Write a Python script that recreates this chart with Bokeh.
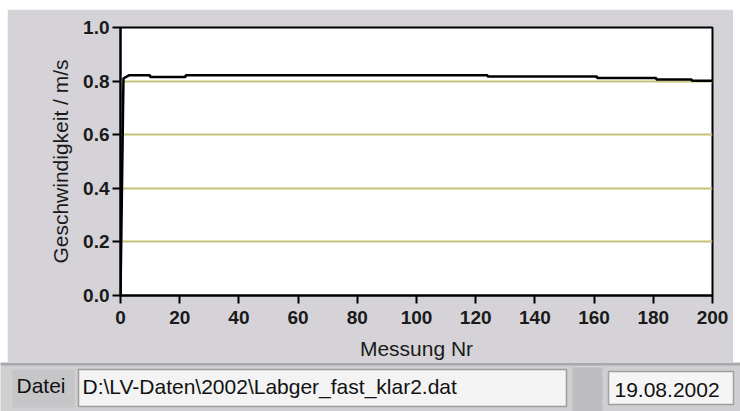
from bokeh.plotting import figure
from bokeh.models import Range1d, FixedTicker, PrintfTickFormatter, ColumnDataSource
from bokeh.core.properties import value
from bokeh.embed import file_html
from bokeh.resources import INLINE

# ---- data ----
messung = [0, 1, 3, 10, 10, 22, 22, 124, 124, 161, 161, 181, 181, 193, 193, 200]
geschw = [0.0, 0.81, 0.822, 0.822, 0.815, 0.815, 0.822, 0.822, 0.817, 0.817,
          0.812, 0.812, 0.806, 0.806, 0.801, 0.801]
x_ticks = [0, 20, 40, 60, 80, 100, 120, 140, 160, 180, 200]
y_ticks = [0.0, 0.2, 0.4, 0.6, 0.8, 1.0]
grid_levels = [0.2, 0.4, 0.6, 0.8]
x_title = "Messung Nr"
y_title = "Geschwindigkeit / m/s"
file_label = "Datei"
file_path = "D:\\LV-Daten\\2002\\Labger_fast_klar2.dat"
date_text = "19.08.2002"

FONT = "Liberation Sans"
PANEL = "#d5d3d8"

p = figure(width=726, height=353, output_backend="svg", toolbar_location=None,
           x_range=Range1d(0, 200), y_range=Range1d(0, 1.0),
           min_border_left=113, min_border_right=21, min_border_top=18,
           min_border_bottom=67)
p.styles = {"margin-left": "7px", "margin-top": "9px"}
p.border_fill_color = PANEL
p.background_fill_color = "white"
p.outline_line_color = "black"
p.outline_line_width = 2

p.xgrid.grid_line_color = None
p.ygrid.ticker = FixedTicker(ticks=grid_levels)
p.ygrid.grid_line_color = "#c9c27a"
p.ygrid.grid_line_width = 2

for ax in (p.xaxis[0], p.yaxis[0]):
    ax.axis_line_color = "black"
    ax.axis_line_width = 2
    ax.major_tick_line_color = "black"
    ax.major_tick_line_width = 2
    ax.major_tick_out = 8
    ax.major_tick_in = 0
    ax.minor_tick_line_color = None
    ax.major_label_text_font = FONT
    ax.major_label_text_font_size = "19px"
    ax.major_label_text_font_style = "bold"
    ax.major_label_text_color = "#1a1a1a"
    ax.axis_label_text_font = FONT
    ax.axis_label_text_font_size = "21px"
    ax.axis_label_text_font_style = "normal"
    ax.axis_label_text_color = "#1a1a1a"

p.xaxis.ticker = FixedTicker(ticks=x_ticks)
p.yaxis.ticker = FixedTicker(ticks=y_ticks)
p.yaxis.formatter = PrintfTickFormatter(format="%.1f")
p.xaxis.axis_label = x_title
p.yaxis.axis_label = y_title
p.xaxis.major_label_standoff = 7
p.yaxis.major_label_standoff = 3
p.xaxis.axis_label_standoff = 10
p.yaxis.axis_label_standoff = 8

src = ColumnDataSource(dict(x=messung, y=geschw))
p.line("x", "y", source=src, line_color="black", line_width=2.5)

# ---- bottom status row ----
b = figure(width=740, height=49, output_backend="svg", toolbar_location=None,
           x_range=Range1d(0, 740), y_range=Range1d(49, 0),
           x_axis_type=None, y_axis_type=None, min_border=0)
b.outline_line_color = None
b.background_fill_color = "#cfcfd1"
b.border_fill_color = "#cfcfd1"
b.grid.visible = False

# separators / boxes (decoration)
b.quad(left=[0], right=[740], top=[0], bottom=[3], fill_color="#a9a9ab", line_color=None)
b.quad(left=[12], right=[74], top=[7], bottom=[45], fill_color="#c6c6c8", line_color=None)
b.quad(left=[78], right=[566], top=[7], bottom=[44], fill_color="#f3f3f3",
       line_color="#9c9c9c", line_width=1.5)
b.quad(left=[572], right=[602], top=[5], bottom=[49], fill_color="#bdbdbf", line_color=None)
b.quad(left=[608], right=[733], top=[9], bottom=[42], fill_color="#f5f5f5",
       line_color="#a0a0a0", line_width=1.5)

tsrc = ColumnDataSource(dict(x=[16, 82, 614], y=[23, 24, 27],
                             t=[file_label, file_path, date_text]))
b.text("x", "y", text="t", source=tsrc, text_font=value(FONT), text_font_size="21px",
       text_color="#111111", text_baseline="middle", text_align="left")

open("out.html", "w").write(file_html([p, b], INLINE))
